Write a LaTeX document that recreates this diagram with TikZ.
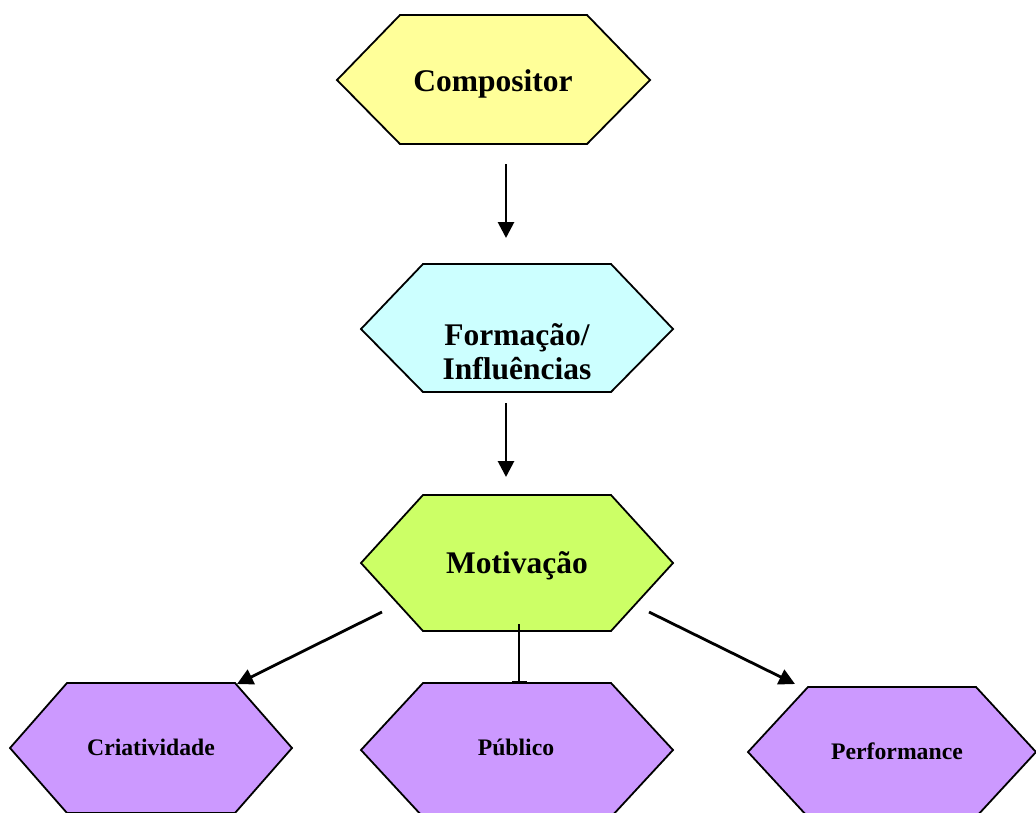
\documentclass[tikz,border=0pt]{standalone}
\usepackage{fontspec}
\setmainfont{Liberation Serif}
\usetikzlibrary{arrows.meta}
\definecolor{cyellow}{HTML}{FFFF99}
\definecolor{ccyan}{HTML}{CCFFFF}
\definecolor{cgreen}{HTML}{CCFF66}
\definecolor{cpurple}{HTML}{CC99FF}
\tikzset{
  hexshape/.style={draw=black, line width=1.8pt, line join=miter},
  bigtext/.style={font=\bfseries\fontsize{31.5}{34}\selectfont, align=center, inner sep=0pt},
  smalltext/.style={font=\bfseries\fontsize{23.7}{26}\selectfont, align=center, inner sep=0pt},
  conn/.style={line width=2.8pt, -{Triangle[length=16pt,width=16pt]}},
  connbar/.style={line width=2.8pt, -{Bar[width=15pt,line width=2.2pt]}},
}
% #1 color, #2 left x, #3 inset, #4 right x, #5 top y, #6 mid y, #7 bottom y
\newcommand\hexpath[7]{%
  \filldraw[hexshape, fill=#1] (#2,#6) -- (#2+#3,#5) -- (#4-#3,#5) -- (#4,#6) -- (#4-#3,#7) -- (#2+#3,#7) -- cycle;}
\begin{document}
\begin{tikzpicture}[x=1pt,y={(0pt,-1pt)}]
\useasboundingbox (0,0) rectangle (1036,812);
\fill[white] (0,0) rectangle (1036,812);
% hexagons
\hexpath{cyellow}{337}{63}{650}{15}{80}{144}
\hexpath{ccyan}{361}{62}{673}{264}{329}{392}
\hexpath{cgreen}{361}{62}{673}{495}{563}{631}
\hexpath{cpurple}{10}{57}{292}{683}{748}{813}
\hexpath{cpurple}{361}{62}{673}{683}{750}{817}
\hexpath{cpurple}{748}{60}{1036}{687}{752}{817}
% labels
\node[bigtext] (comp) at (493,84) {Compositor};
\node[bigtext] (form) at (517,352) {Formação/\\Influências};
\node[bigtext] (moti) at (517,566) {Motivação};
\node[smalltext] (cria) at (151,747) {Criatividade};
\node[smalltext] (publ) at (516,747) {Público};
\node[smalltext] (perf) at (897,751) {Performance};
% connector end points
\coordinate (a1s) at (506,164);
\coordinate (a1e) at (506,238);
\coordinate (a2s) at (506,403);
\coordinate (a2e) at (506,477);
\coordinate (a3s) at (382,612);
\coordinate (a3e) at (237,684);
\coordinate (a4s) at (519,624);
\coordinate (a4e) at (519,683);
\coordinate (a5s) at (649,612);
\coordinate (a5e) at (795,684);
% connectors
\draw[conn] (a1s) -- (a1e);
\draw[conn] (a2s) -- (a2e);
\draw[conn] (a3s) -- (a3e);
\draw[connbar] (a4s) -- (a4e);
\draw[conn] (a5s) -- (a5e);
\end{tikzpicture}
\end{document}
